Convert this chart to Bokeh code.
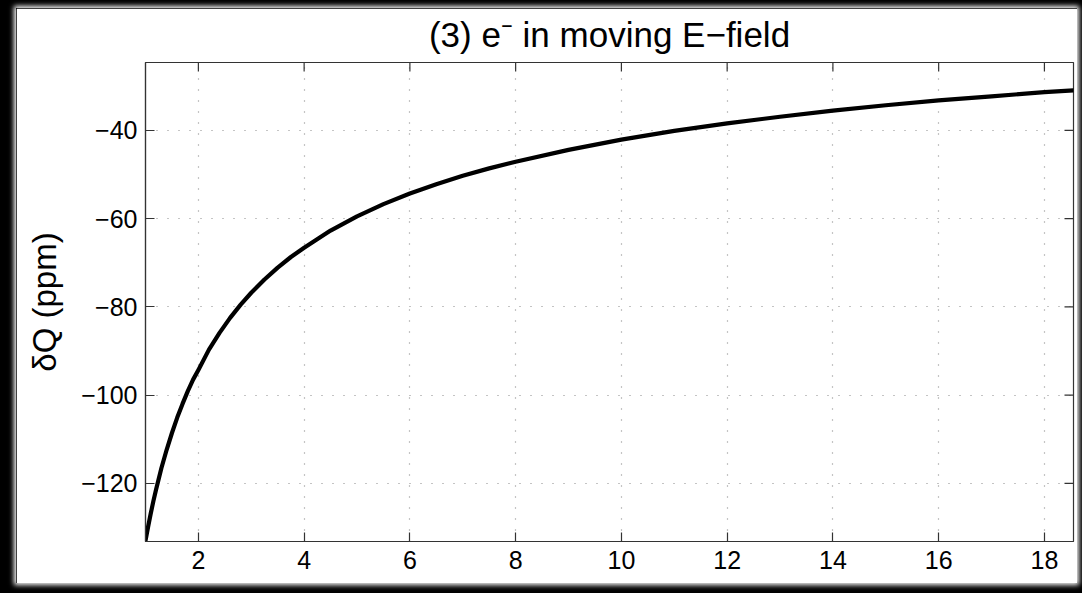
import math
from bokeh.plotting import figure
from bokeh.layouts import column
from bokeh.models import FixedTicker, Range1d
from bokeh.embed import file_html
from bokeh.resources import INLINE

# ---- data ----
x_vals = [1.0, 1.05, 1.1, 1.15, 1.2, 1.3, 1.4, 1.5, 1.6, 1.7, 1.8, 1.9, 2.0,
          2.2, 2.4, 2.6, 2.8, 3.0, 3.25, 3.5, 3.75, 4.0, 4.5, 5.0, 5.5, 6.0,
          6.5, 7.0, 7.5, 8.0, 9.0, 10.0, 11.0, 12.0, 13.0, 14.0, 15.0, 16.0,
          17.0, 18.0, 18.55]
dq_vals = [-133.0, -129.8, -126.8, -124.0, -121.4, -116.6, -112.4, -108.6,
           -105.1, -102.0, -99.1, -96.5, -94.3, -89.7, -85.9, -82.5, -79.5,
           -76.8, -73.8, -71.1, -68.7, -66.6, -62.7, -59.5, -56.7, -54.3,
           -52.2, -50.3, -48.6, -47.1, -44.4, -42.1, -40.1, -38.4, -36.9,
           -35.5, -34.3, -33.2, -32.3, -31.3, -30.9]
x_ticks = [2, 4, 6, 8, 10, 12, 14, 16, 18]
x_tick_labels = ["2", "4", "6", "8", "10", "12", "14", "16", "18"]
y_ticks = [-120, -100, -80, -60, -40]
y_tick_labels = ["\u2212120", "\u2212100", "\u221280", "\u221260", "\u221240"]
title_text = "(3) e\u207b in moving E\u2212field"
y_label = "\u03b4Q (ppm)"

X_MIN, X_MAX = 1.0, 18.55
Y_MIN, Y_MAX = -133.2, -24.6

FONT = "Liberation Sans"
AX = "#333333"

p = figure(width=1061, height=575, output_backend="svg", toolbar_location=None,
           x_range=Range1d(X_MIN, X_MAX), y_range=Range1d(Y_MIN, Y_MAX),
           min_border_left=129, min_border_top=52, min_border_right=4,
           min_border_bottom=42, title=title_text)
p.background_fill_color = "white"
p.border_fill_color = "white"
p.outline_line_color = AX
p.outline_line_width = 1.2

p.title.align = "center"
p.title.vertical_align = "top"
p.title.text_font = FONT
p.title.text_font_size = "35px"
p.title.text_font_style = "normal"
p.title.text_color = "black"
p.title.standoff = 13
p.title.text_line_height = 1.0

p.line(x_vals, dq_vals, line_color="black", line_width=4.2,
       line_join="round", line_cap="round")


def style_axis(ax, ticks, labels):
    ax.ticker = FixedTicker(ticks=ticks)
    ax.major_label_overrides = {t: l for t, l in zip(ticks, labels)}
    ax.axis_line_color = AX
    ax.axis_line_width = 1.2
    ax.major_tick_line_color = AX
    ax.major_tick_line_width = 1.2
    ax.major_tick_in = 9
    ax.major_tick_out = 0
    ax.minor_tick_in = 0
    ax.minor_tick_out = 0
    ax.major_label_text_font = FONT
    ax.major_label_text_color = "black"
    ax.major_label_text_font_size = "25px"


style_axis(p.xaxis[0], x_ticks, x_tick_labels)
p.xaxis[0].major_label_standoff = 9
style_axis(p.yaxis[0], y_ticks, y_tick_labels)
p.yaxis[0].major_label_standoff = 8
p.yaxis[0].axis_label = y_label
p.yaxis[0].axis_label_text_font = FONT
p.yaxis[0].axis_label_text_font_size = "33px"
p.yaxis[0].axis_label_text_font_style = "normal"
p.yaxis[0].axis_label_text_color = "black"
p.yaxis[0].axis_label_standoff = 15

# inward tick marks on top and right edges of the box
p.ray(x=x_ticks, y=[Y_MAX] * len(x_ticks), length=9, length_units="screen",
      angle=-math.pi / 2, line_color=AX, line_width=1.2)
p.ray(x=[X_MAX] * len(y_ticks), y=y_ticks, length=9, length_units="screen",
      angle=math.pi, line_color=AX, line_width=1.2)

p.xgrid.ticker = FixedTicker(ticks=x_ticks)
p.ygrid.ticker = FixedTicker(ticks=y_ticks)
for g in (p.xgrid[0], p.ygrid[0]):
    g.grid_line_color = "#8a8a8a"
    g.grid_line_width = 1.2
    g.grid_line_dash = "1 10"

p.styles = {"box-shadow": "0 0 5px 2px #ffffff"}

root = column(p, width=1082, height=593,
              styles={"background-color": "#000000", "padding-left": "16px",
                      "padding-top": "8px", "box-sizing": "border-box"})

open("out.html", "w").write(file_html(root, INLINE))
